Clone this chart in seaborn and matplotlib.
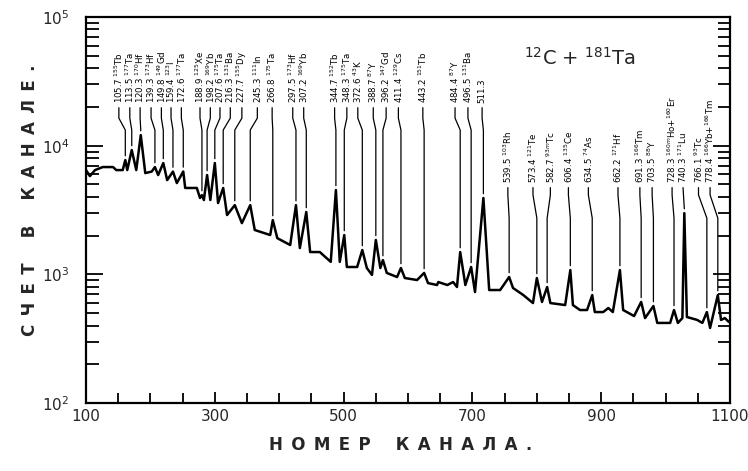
import numpy as np
import pandas as pd
import matplotlib
matplotlib.use("Agg")
import matplotlib.pyplot as plt
import matplotlib.transforms as mtransforms
from matplotlib.ticker import FixedLocator, NullFormatter, FixedFormatter
import seaborn as sns

# ---- spectrum (channel number, counts per channel) ----
channel = [100, 106, 114, 126, 142, 147, 157, 161, 164, 171, 178, 185, 192, 202, 207, 212,
           220, 226, 235, 241, 251, 254, 272, 277, 280, 283, 288, 293, 300, 305, 313, 319,
           331, 342, 355, 362, 386, 390, 397, 417, 426, 432, 442, 448, 463, 480, 488, 494,
           501, 505, 521, 529, 536, 544, 550, 557, 561, 567, 583, 589, 595, 614, 625, 631,
           645, 647, 661, 670, 676, 681, 689, 698, 704, 717, 726, 743, 757, 763, 779, 794,
           800, 808, 816, 821, 844, 852, 856, 867, 878, 886, 890, 903, 911, 918, 929, 934,
           951, 962, 968, 981, 987, 1007, 1013, 1019, 1026, 1029, 1033, 1049, 1057, 1064,
           1069, 1081, 1086, 1092, 1098]
counts = [6460, 5800, 6460, 6820, 6820, 6460, 6460, 7730, 6460, 9250, 6460, 12080, 6120, 6290, 6820, 5910,
          7330, 5400, 6290, 5120, 6300, 4690, 4690, 3920, 4130, 3780, 5910, 3780, 7330, 3580, 4690, 2890,
          3450, 2500, 3450, 2210, 2020, 2640, 1910, 1690, 3450, 1600, 3050, 1490, 1490, 1250, 4520, 1250,
          2020, 1140, 1140, 1545, 1120, 990, 1850, 1120, 1290, 1025, 953, 1120, 936, 903, 1025, 855,
          826, 871, 826, 871, 797, 1490, 826, 1140, 728, 3920, 755, 755, 953, 783, 690, 598,
          936, 610, 797, 598, 577, 1080, 577, 528, 528, 690, 509, 509, 547, 509, 1080, 528,
          474, 610, 457, 567, 419, 419, 528, 419, 457, 2990, 466, 442, 419, 509,
          383, 690, 442, 457, 427]

# ---- peak identifications ----
energies = ["105.7", "113.5", "120.3", "139.3", "149.8", "159.4", "172.6", "188.9", "198.2",
            "207.6", "216.3", "227.7", "245.3", "266.8", "297.5", "307.2", "344.7", "348.3",
            "372.6", "388.7", "396.2", "411.4", "443.2", "484.4", "496.5", "511.3",
            "539.5", "573.4", "582.7", "606.4", "634.5", "662.2", "691.3", "703.5",
            "728.3", "740.3", "766.1", "778.4"]
isotopes = ["$^{155}$Tb", "$^{177}$Ta", "$^{170}$Hf", "$^{173}$Hf", "$^{149}$Gd", "$^{123}$I",
            "$^{177}$Ta", "$^{125}$Xe", "$^{169}$Yb", "$^{175}$Ta", "$^{131}$Ba", "$^{155}$Dy",
            "$^{111}$In", "$^{175}$Ta", "$^{173}$Hf", "$^{169}$Yb", "$^{152}$Tb", "$^{175}$Ta",
            "$^{43}$K", "$^{87}$Y", "$^{147}$Gd", "$^{129}$Cs", "$^{151}$Tb", "$^{87}$Y",
            "$^{131}$Ba", "",
            "$^{103}$Rh", "$^{121}$Te", "$^{93m}$Tc", "$^{135}$Ce", "$^{74}$As", "$^{171}$Hf",
            "$^{166}$Tm", "$^{88}$Y", "$^{160m}$Ho+$^{160}$Er", "$^{171}$Lu", "$^{93}$Tc",
            "$^{166}$Yb+$^{166}$Tm"]
peak_ch = [161, 171, 185, 207, 220, 235, 251, 280, 288, 300, 313, 331, 355, 390, 426, 442,
           488, 501, 529, 550, 561, 589, 625, 681, 698, 717,
           757, 800, 816, 852, 886, 929, 962, 981, 1013, 1029, 1064, 1081]

# label layout (text position in channels, row of labels)
label_ch = [151, 168, 184, 201, 217, 232, 248, 277, 293, 308, 324, 342, 366, 389, 421, 438,
            486, 505, 522, 546, 566, 585, 623, 673, 693, 715,
            755, 794, 821, 849, 880, 926, 960, 979, 1010, 1027, 1051, 1069]
label_row = [0] * 26 + [1] * 12

x_ticks = [100, 300, 500, 700, 900, 1100]
y_ticks = [1e2, 1e3, 1e4, 1e5]
y_tick_labels = ["10$^2$", "10$^3$", "10$^4$", "10$^5$"]

sns.set_theme(style="white")
plt.rcParams["font.family"] = ["DejaVu Sans"]

fig = plt.figure(figsize=(7.48, 4.71), dpi=100)
ax = fig.add_axes([0.115, 0.1444, 0.861, 0.8195])

df = pd.DataFrame({"channel": channel, "counts": counts})
sns.lineplot(data=df, x="channel", y="counts", ax=ax, color="black", lw=1.8,
             estimator=None, legend=False)

ax.set_yscale("log")
ax.set_xlim(100, 1100)
ax.set_ylim(1e2, 1e5)
ax.set_xlabel("")
ax.set_ylabel("")

# ticks
ax.xaxis.set_major_locator(FixedLocator(x_ticks))
ax.xaxis.set_major_formatter(FixedFormatter([str(t) for t in x_ticks]))
ax.xaxis.set_minor_locator(FixedLocator([v for v in range(150, 1100, 50) if v not in x_ticks]))
ax.yaxis.set_major_locator(FixedLocator(y_ticks))
ax.yaxis.set_major_formatter(FixedFormatter(y_tick_labels))
ax.yaxis.set_minor_locator(FixedLocator([m * 10 ** d for d in range(2, 5) for m in range(2, 10)]))
ax.yaxis.set_minor_formatter(NullFormatter())
ax.tick_params(axis="both", which="both", direction="in", color="black", width=1.3)
ax.tick_params(axis="x", which="major", length=8, labelsize=11, pad=4, bottom=True)
ax.tick_params(axis="x", which="minor", length=7, bottom=True)
ax.tick_params(axis="y", which="major", length=12, labelsize=11, pad=12, left=True, right=True)
ax.tick_params(axis="y", which="minor", length=9, left=True, right=True)
for s in ax.spines.values():
    s.set_linewidth(1.6)
    s.set_color("black")

# labels with leader lines
row_bottom = [0.777, 0.570]
row_k1 = [0.738, 0.539]
row_k2 = [0.707, 0.479]
frac2val = lambda f: 10 ** (2 + 3 * f)
trans = mtransforms.blended_transform_factory(ax.transData, ax.transAxes)
ch_arr = np.array(channel)
ct_arr = np.array(counts)
for e, iso, tx, pc, r in zip(energies, isotopes, label_ch, peak_ch, label_row):
    txt = e if iso == "" else f"{e} {iso}"
    ax.text(tx, row_bottom[r], txt, transform=trans, rotation=90, ha="center", va="bottom",
            fontsize=6.2, color="black")
    near = np.abs(ch_arr - pc) <= 2
    top = ct_arr[near].max() * 1.08
    y0 = frac2val(row_bottom[r] - 0.012)
    yk1 = frac2val(row_k1[r])
    yk2 = frac2val(row_k2[r])
    if top >= yk2:
        xs, ys = [tx, pc], [y0, top]
    else:
        xs, ys = [tx, tx, pc, pc], [y0, yk1, yk2, top]
    ax.plot(xs, ys, color="black", lw=0.9)

ax.text(0.767, 0.894, "$^{12}$C + $^{181}$Ta", transform=ax.transAxes, ha="center",
        va="center", fontsize=14)

sp = "\u2002"
xlab = sp.join("НОМЕР") + sp * 3 + sp.join("КАНАЛА.")
ylab = sp.join("СЧЕТ") + sp * 3 + "В" + sp * 3 + sp.join("КАНАЛЕ.")
fig.text(0.535, 0.055, xlab, ha="center", va="center", fontsize=12, fontweight="bold")
fig.text(0.040, 0.575, ylab, ha="center", va="center", rotation=90, fontsize=12,
         fontweight="bold")

fig.savefig("out.png", dpi=100, facecolor="white")
